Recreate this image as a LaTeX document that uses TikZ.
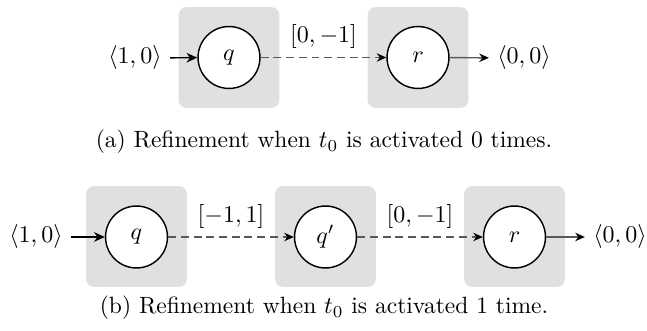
\documentclass[tikz,border=0pt]{standalone}
\usepackage{amsmath,amssymb}
\usepackage{xcolor}
\usepackage{tikz}
\usetikzlibrary{arrows.meta}

\tikzset{
  region/.style={fill=black!12,rounded corners=3.3pt,minimum width=42pt,minimum height=42pt,inner sep=0pt},
  state/.style={circle,draw,semithick,fill=white,minimum size=25.8pt,inner sep=0pt},
  into/.style={semithick,-{Stealth[length=4.5pt,width=4pt]}},
  flow/.style={black!65,semithick,dash pattern=on 3.3pt off 2pt,-{Stealth[black,length=4pt,width=3.5pt]}},
  outof/.style={black!65,semithick,-{Stealth[black,length=4pt,width=3.5pt]}},
  caption/.style={font=\fontsize{9.8}{12}\selectfont}
}

\begin{document}
\begin{tikzpicture}[x=0.4167pt,y=-0.4167pt]
  \useasboundingbox (0,0) rectangle (647,331);
  % (a)
  \node[region] (ba1) at (229,57.5) {};
  \node[region] (ba2) at (418,57.5) {};
  \node[state] (qa) at (229,57.5) {$q$};
  \node[state] (ra) at (418,57.5) {$r$};
  \node (ina) at (135,58) {$\langle 1,0\rangle$};
  \node (outa) at (524,58) {$\langle 0,0\rangle$};
  \draw[into] (ina) -- (qa);
  \draw[flow] (qa) -- node[above,black] {$[0,-1]$} (ra);
  \draw[outof] (ra) -- (outa);
  \node[caption] (capa) at (324,142) {(a) Refinement when $t_0$ is activated 0 times.};
  % (b)
  \node[region] (bb1) at (136.5,236.5) {};
  \node[region] (bb2) at (325.5,236.5) {};
  \node[region] (bb3) at (514.5,236.5) {};
  \node[state] (qb) at (136.5,237) {$q$};
  \node[state] (qpb) at (325.5,237) {$q'$};
  \node[state] (rb) at (514.5,237) {$r$};
  \node (inb) at (36,237) {$\langle 1,0\rangle$};
  \node (outb) at (620,237) {$\langle 0,0\rangle$};
  \draw[into] (inb) -- (qb);
  \draw[flow] (qb) -- node[above,black] {$[-1,1]$} (qpb);
  \draw[flow] (qpb) -- node[above,black] {$[0,-1]$} (rb);
  \draw[outof] (rb) -- (outb);
  \node[caption] (capb) at (324,308) {(b) Refinement when $t_0$ is activated 1 time.};
\end{tikzpicture}
\end{document}
